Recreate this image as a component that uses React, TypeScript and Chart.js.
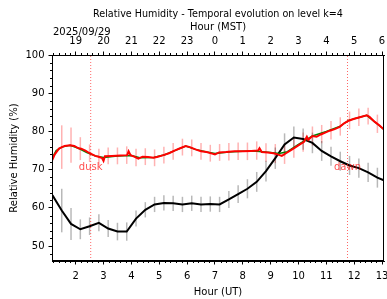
import React, { useEffect, useRef } from "react";
import { Chart, registerables } from "chart.js";

Chart.register(...registerables);

// ---- Data (hours UT, relative humidity %) ----
const TITLE = "Relative Humidity - Temporal evolution on level k=4";
const DATE_LABEL = "2025/09/29";

const BLACK_UT = [
  1.167, 1.5, 1.833, 2.167, 2.5, 2.833, 3.167, 3.5, 3.833, 4.167, 4.5, 4.833,
  5.167, 5.5, 5.833, 6.167, 6.5, 6.833, 7.167, 7.5, 7.833, 8.167, 8.5, 8.833,
  9.167, 9.5, 9.833, 10.167, 10.5, 10.833, 11.167, 11.5, 11.833, 12.167, 12.5,
  12.833, 13.167,
];
const BLACK_RH = [
  63.3, 59.3, 55.8, 54.4, 55.2, 56.1, 54.6, 53.8, 53.8, 57.2, 59.5, 60.9,
  61.3, 61.2, 60.9, 61.2, 60.9, 61.0, 60.9, 62.2, 63.6, 65.0, 66.8, 69.6,
  73.0, 76.6, 78.4, 78.0, 77.0, 74.9, 73.5, 72.2, 71.1, 70.4, 69.3,
  67.9, 66.9,
];
const BLACK_ERR = [
  null, 5.7, 4.2, 2.6, 2.3, 2.2, 2.2, 2.3, 2.4, 2.1, 2.0, 2.0,
  2.0, 2.0, 2.0, 2.0, 2.0, 2.0, 2.0, 2.2, 2.3, 2.5, 2.6, 2.7,
  2.8, 2.9, 2.9, 2.8, 2.7, 2.6, 2.5, 2.5, 2.5, 2.5, 2.5,
  2.6, null,
];

const RED_UT = [
  1.15, 1.25, 1.4, 1.6, 1.8, 1.95, 2.1, 2.2, 2.35, 2.5, 2.7, 2.85, 2.95, 3.0,
  3.05, 3.3, 3.6, 3.85, 3.9, 3.97, 4.1, 4.25, 4.4, 4.6, 4.8, 4.95, 5.15, 5.35,
  5.55, 5.75, 5.95, 6.1, 6.3, 6.5, 6.7, 6.9, 7.0, 7.15, 7.4, 7.7, 8.0, 8.3,
  8.55, 8.6, 8.68, 8.9, 9.1, 9.25, 9.4, 9.55, 9.7, 9.9, 10.05, 10.2, 10.3,
  10.35, 10.5, 10.65, 10.8, 11.0, 11.12, 11.3, 11.48, 11.65, 11.8, 12.0, 12.2,
  12.45, 12.55, 12.74, 12.9, 13.07,
];
const RED_RH = [
  72.4, 74.0, 75.5, 76.2, 76.4, 76.2, 75.6, 75.5, 75.0, 74.3, 73.6, 73.3, 73.0, 72.3,
  73.5, 73.6, 73.7, 73.8, 74.8, 73.8, 73.4, 72.9, 73.4, 73.3, 73.1, 73.4, 73.8, 74.3,
  75.0, 75.6, 76.2, 75.9, 75.3, 74.8, 74.6, 74.2, 74.0, 74.5, 74.6, 74.8, 74.8, 74.9,
  75.0, 75.6, 74.6, 74.5, 74.3, 74.0, 73.6, 74.3, 75.0, 75.9, 76.6, 77.3, 78.6,
  77.8, 78.8, 78.6, 79.2, 79.8, 80.2, 80.6, 81.2, 82.2, 82.8, 83.3, 83.7,
  84.2, 83.8, 82.5, 81.6, 80.5,
];

const GREEN_UT = [
  1.15, 1.3, 1.5, 1.8, 2.1, 2.4, 2.7, 3.0, 3.5, 4.0, 4.3, 4.8, 5.2, 5.6, 5.95,
  6.3, 6.7, 7.0, 7.5, 8.0, 8.5, 9.0, 9.3, 9.6, 10.0, 10.5, 11.0, 11.5, 11.8,
  12.2, 12.45, 12.75, 13.07,
];
const GREEN_RH = [
  73.0, 75.0, 75.9, 76.4, 75.6, 74.5, 73.6, 73.2, 73.6, 73.7, 73.1, 73.2, 73.9, 75.1, 76.2,
  75.3, 74.6, 74.2, 74.6, 74.8, 74.8, 74.5, 74.2, 74.7, 76.6, 78.8, 80.0, 81.4, 82.9,
  83.7, 84.2, 82.4, 80.5,
];

const RED_BAR_UT = BLACK_UT.slice(1, 36);
const RED_BAR_RH = [
  75.9, 76.4, 75.5, 74.3, 73.3, 73.6, 73.6, 73.8, 73.2, 73.4, 73.1, 73.8,
  74.8, 75.9, 75.7, 74.8, 74.3, 74.5, 74.7, 74.8, 74.8, 75.0, 74.5, 74.2,
  74.0, 75.6, 77.2, 78.8, 79.3, 80.3, 81.3, 82.9, 83.7, 84.0, 82.0,
];
const RED_BAR_ERR = [
  5.7, 4.6, 3.0, 2.3, 2.2, 2.2, 2.2, 2.3, 2.3, 2.2, 2.2, 2.2,
  2.2, 2.2, 2.2, 2.2, 2.2, 2.2, 2.3, 2.3, 2.3, 2.4, 2.4, 2.5,
  2.5, 2.5, 2.5, 2.5, 2.4, 2.4, 2.4, 2.3, 2.3, 2.2, 2.4,
];

const DUSK_UT = 2.54;
const DAWN_UT = 11.76;
const EVENT_LABEL_RH = 70.7;

const X_MIN = 1.15;
const X_MAX = 13.07;
const Y_MIN = 46.1;
const Y_MAX = 100;

const FONT = "'DejaVu Sans', sans-serif";

const decorPlugin = {
  id: "decor",
  beforeDatasetsDraw(chart: any) {
    const { ctx, chartArea, scales } = chart;
    const xs = scales.x;
    const ys = scales.y;
    ctx.save();
    ctx.beginPath();
    ctx.rect(chartArea.left, chartArea.top, chartArea.right - chartArea.left, chartArea.bottom - chartArea.top);
    ctx.clip();
    ctx.lineWidth = 1.5;
    // red error bars
    ctx.strokeStyle = "rgba(255,0,0,0.3)";
    RED_BAR_UT.forEach((t, i) => {
      const e = RED_BAR_ERR[i];
      const px = xs.getPixelForValue(t);
      ctx.beginPath();
      ctx.moveTo(px, ys.getPixelForValue(RED_BAR_RH[i] - e));
      ctx.lineTo(px, ys.getPixelForValue(RED_BAR_RH[i] + e));
      ctx.stroke();
    });
    // grey error bars
    ctx.strokeStyle = "rgba(0,0,0,0.28)";
    BLACK_UT.forEach((t, i) => {
      const e = BLACK_ERR[i];
      if (e == null) return;
      const px = xs.getPixelForValue(t);
      ctx.beginPath();
      ctx.moveTo(px, ys.getPixelForValue(BLACK_RH[i] - e));
      ctx.lineTo(px, ys.getPixelForValue(BLACK_RH[i] + e));
      ctx.stroke();
    });
    ctx.restore();
  },
  afterDraw(chart: any) {
    const { ctx, chartArea, scales } = chart;
    const xs = scales.x;
    const ys = scales.y;
    ctx.save();
    ctx.strokeStyle = "#000";
    ctx.lineWidth = 1;
    // minor ticks
    ctx.beginPath();
    for (let v = Math.ceil(X_MIN * 5) / 5; v <= X_MAX + 1e-9; v += 0.2) {
      const r = Math.round(v * 5) / 5;
      if (Math.abs(r - Math.round(r)) < 1e-6) continue;
      const px = Math.round(xs.getPixelForValue(r)) + 0.5;
      ctx.moveTo(px, chartArea.bottom);
      ctx.lineTo(px, chartArea.bottom + 2);
      ctx.moveTo(px, chartArea.top);
      ctx.lineTo(px, chartArea.top - 2);
    }
    for (let v = 48; v <= Y_MAX; v += 2) {
      if (v % 10 === 0) continue;
      const py = Math.round(ys.getPixelForValue(v)) + 0.5;
      ctx.moveTo(chartArea.left, py);
      ctx.lineTo(chartArea.left - 2, py);
    }
    ctx.stroke();
    // frame
    ctx.strokeRect(chartArea.left + 0.5, chartArea.top + 0.5, chartArea.right - chartArea.left - 1, chartArea.bottom - chartArea.top - 1);
    // event labels
    ctx.font = `10px ${FONT}`;
    ctx.fillStyle = "rgba(255,0,0,0.7)";
    ctx.textAlign = "center";
    ctx.textBaseline = "middle";
    ctx.fillText("dusk", xs.getPixelForValue(DUSK_UT), ys.getPixelForValue(EVENT_LABEL_RH));
    ctx.fillText("dawn", xs.getPixelForValue(DAWN_UT), ys.getPixelForValue(EVENT_LABEL_RH));
    // date label
    ctx.fillStyle = "#000";
    ctx.textAlign = "left";
    ctx.fillText(DATE_LABEL, chartArea.left + 1, 32);
    // main title, centred over the plot area
    ctx.font = `9.6px ${FONT}`;
    ctx.textAlign = "center";
    ctx.fillText(TITLE, (chartArea.left + chartArea.right) / 2, 14);
    ctx.restore();
  },
};

function fixBox(size: { w?: number; h?: number }) {
  return (s: any) => {
    if (size.w != null) s.width = size.w;
    if (size.h != null) s.height = size.h;
    s.paddingLeft = 0;
    s.paddingRight = 0;
    s.paddingTop = 0;
    s.paddingBottom = 0;
  };
}

export default function App() {
  const ref = useRef<HTMLCanvasElement | null>(null);
  useEffect(() => {
    document.body.style.margin = "0";
    const canvas = ref.current;
    if (!canvas) return;
    const toPts = (xs: number[], ys: number[]) => xs.map((x, i) => ({ x, y: ys[i] }));
    const tickFont = { family: FONT, size: 10 };
    const chart = new Chart(canvas, {
      type: "line",
      data: {
        datasets: [
          {
            data: [{ x: DUSK_UT, y: Y_MIN }, { x: DUSK_UT, y: Y_MAX }],
            borderColor: "rgba(255,0,0,0.6)",
            borderWidth: 1,
            borderDash: [1, 2],
            pointRadius: 0,
            order: 0,
          },
          {
            data: [{ x: DAWN_UT, y: Y_MIN }, { x: DAWN_UT, y: Y_MAX }],
            borderColor: "rgba(255,0,0,0.6)",
            borderWidth: 1,
            borderDash: [1, 2],
            pointRadius: 0,
            order: 0,
          },
          {
            data: toPts(RED_UT, RED_RH),
            borderColor: "#ff0000",
            borderWidth: 2,
            pointRadius: 0,
            tension: 0,
            order: 1,
          },
          {
            data: toPts(GREEN_UT, GREEN_RH),
            borderColor: "#008000",
            borderWidth: 1.5,
            pointRadius: 0,
            tension: 0,
            order: 2,
          },
          {
            data: toPts(BLACK_UT, BLACK_RH),
            borderColor: "#000000",
            borderWidth: 2,
            pointRadius: 0,
            tension: 0,
            order: 3,
          },
        ],
      },
      options: {
        responsive: false,
        animation: false,
        events: [],
        layout: { padding: { left: 0, right: 3, top: 20, bottom: 0 } },
        plugins: {
          legend: { display: false },
          tooltip: { enabled: false },
          title: { display: false },
        },
        scales: {
          x: {
            type: "linear",
            position: "bottom",
            min: X_MIN,
            max: X_MAX,
            afterFit: fixBox({ h: 38 }),
            ticks: {
              stepSize: 1,
              includeBounds: false,
              autoSkip: false,
              maxRotation: 0,
              padding: 6,
              color: "#000",
              font: tickFont,
            },
            grid: { drawOnChartArea: false, drawTicks: true, tickLength: 3.5, color: "#000", lineWidth: 1 },
            border: { color: "#000", width: 1 },
            title: { display: true, text: "Hour (UT)", color: "#000", font: tickFont, padding: { top: 0, bottom: 1 } },
          },
          x2: {
            type: "linear",
            position: "top",
            min: X_MIN,
            max: X_MAX,
            afterFit: fixBox({ h: 35 }),
            ticks: {
              stepSize: 1,
              includeBounds: false,
              autoSkip: false,
              maxRotation: 0,
              padding: 4,
              color: "#000",
              font: tickFont,
              callback: (v: any) => String((((Number(v) - 7) % 24) + 24) % 24),
            },
            grid: { drawOnChartArea: false, drawTicks: true, tickLength: 3.5, color: "#000", lineWidth: 1 },
            border: { color: "#000", width: 1 },
            title: { display: true, text: "Hour (MST)", color: "#000", font: tickFont, padding: { top: 1, bottom: 0 } },
          },
          y: {
            type: "linear",
            position: "left",
            min: Y_MIN,
            max: Y_MAX,
            afterFit: fixBox({ w: 52 }),
            ticks: {
              stepSize: 10,
              includeBounds: false,
              padding: 4,
              color: "#000",
              font: tickFont,
            },
            grid: { drawOnChartArea: false, drawTicks: true, tickLength: 3.5, color: "#000", lineWidth: 1 },
            border: { color: "#000", width: 1 },
            title: { display: true, text: "Relative Humidity (%)", color: "#000", font: tickFont, padding: { top: 8, bottom: 0 } },
          },
        },
      },
      plugins: [decorPlugin],
    } as any);
    return () => chart.destroy();
  }, []);
  return (
    <div style={{ width: 387, height: 299 }}>
      <canvas ref={ref} width={387} height={299} style={{ display: "block", width: 387, height: 299 }} />
    </div>
  );
}
